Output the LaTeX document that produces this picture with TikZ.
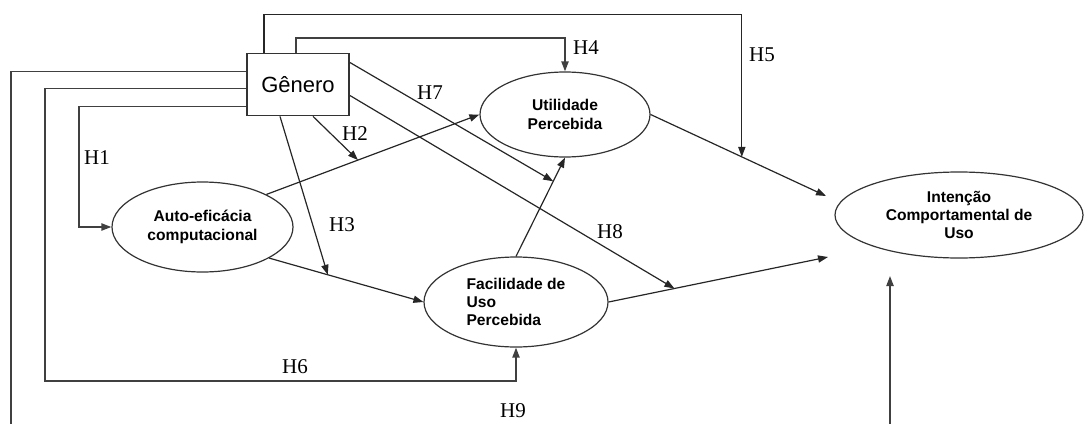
\documentclass[tikz,border=0pt]{standalone}
\usepackage{fontspec}
\setmainfont{Liberation Serif}
\newfontfamily\arialfont{Liberation Sans}
\usetikzlibrary{shapes.geometric,arrows.meta,calc}

\begin{document}
\begin{tikzpicture}[x=0.5pt, y=-0.5pt,
  every node/.style={font=\fontsize{10.5}{12}\selectfont},
  cnode/.style={ellipse, draw=black!80, line width=0.6pt, inner sep=0pt, align=center,
    font=\arialfont\bfseries\fontsize{7.8}{9.2}\selectfont},
  gbox/.style={rectangle, draw=black!80, line width=0.9pt, minimum width=51pt,
    minimum height=31pt, inner sep=0pt, font=\arialfont\fontsize{11}{13}\selectfont},
  link/.style={black!85, line width=0.6pt, -{Triangle[length=5pt,width=3.6pt]}},
  elbow/.style={link, line width=0.8pt, black!75}]
  \useasboundingbox (0,0) rectangle (1086,423);
  \clip (0,0) rectangle (1086,423);
  % Constructs
  \node[gbox] (gen) at (298,84.5) {Gênero};
  \node[cnode, minimum width=90.5pt, minimum height=45pt] (ae) at (202.5,227) {Auto-eficácia\\computacional};
  \node[cnode, minimum width=85pt, minimum height=42.5pt] (up) at (565,114.5) {Utilidade\\Percebida};
  \node[cnode, minimum width=92pt, minimum height=45pt, align=left] (fup) at (516,302) {Facilidade de\\Uso\\Percebida};
  \node[cnode, minimum width=124pt, minimum height=43pt] (ic) at (959,215) {Intenção\\Comportamental de\\Uso};
  % free ends in front of the intention ellipse
  \coordinate (icA) at (826,196);
  \coordinate (icB) at (828,257);
  \coordinate (icC) at (890,276);
  % Main model
  \draw[link] (ae.27) -- (up.west);
  \draw[link] (ae.-25) -- (fup.west);
  \draw[link] (fup.north) -- (up.south);
  \draw[link] (up.east) -- (icA);
  \draw[link] (fup.east) -- (icB);
  % points where the moderating arrows hit the paths
  \coordinate (h2e) at ($(ae.27)!0.43!(up.west)$);
  \coordinate (h3e) at ($(ae.-25)!0.38!(fup.west)$);
  \coordinate (h5e) at ($(up.east)!0.52!(icA)$);
  \coordinate (h7e) at ($(fup.north)!0.76!(up.south)$);
  \coordinate (h8e) at ($(fup.east)!0.30!(icB)$);
  % Hypotheses from Gênero
  \draw[elbow] ([yshift=-11pt]gen.west) -- ++(-167,0) |- (ae.west);
  \draw[link] ([xshift=7.5pt]gen.south) -- (h2e);
  \draw[link] ([xshift=-9pt]gen.south) -- (h3e);
  \draw[elbow] ([xshift=-1pt]gen.north) -- ++(0,-14.5) -| (up.north);
  \draw[link] ([xshift=-17pt]gen.north) -- ++(0,-38.5) -| (h5e);
  \draw[elbow] ([yshift=-2pt]gen.west) -- ++(-201,0) -- ++(0,292.5) -| (fup.south);
  \draw[link] ([yshift=11pt]gen.east) -- (h7e);
  \draw[link] ([yshift=-5.5pt]gen.east) -- (h8e);
  \draw[elbow] ([yshift=6.5pt]gen.west) -- ++(-235,0) -- ++(0,361) -| (icC);
  % Labels
  \node (l1) at (97,158) {H1};
  \node (l2) at (355,134) {H2};
  \node (l3) at (342,225) {H3};
  \node (l4) at (586,48) {H4};
  \node (l5) at (762,55) {H5};
  \node (l6) at (295,367) {H6};
  \node (l7) at (430,93) {H7};
  \node (l8) at (610,232) {H8};
  \node (l9) at (513,411) {H9};
\end{tikzpicture}
\end{document}
